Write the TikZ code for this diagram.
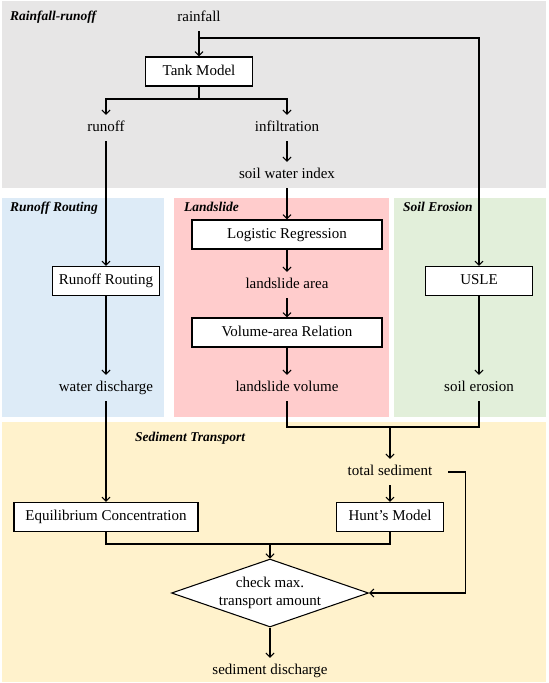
\documentclass[tikz,border=0pt]{standalone}
\usepackage{fontspec}
\setmainfont{Liberation Serif}
\usepackage{xcolor}
\usepackage{tikz}
\usetikzlibrary{arrows.meta,shapes.geometric,calc,positioning}
\definecolor{fondogris}{HTML}{E7E6E6}
\definecolor{fondoazul}{HTML}{DDEBF7}
\definecolor{fondorojo}{HTML}{FFCCCC}
\definecolor{fondoverde}{HTML}{E2EFDA}
\definecolor{fondoamar}{HTML}{FFF2CC}
\tikzset{
  caja/.style={draw=black,fill=white,line width=0.9pt,minimum width=3.21cm,minimum height=0.87cm,inner sep=2pt,text height=8.5pt,text depth=2.5pt,font=\fontsize{12.8}{15}\selectfont},
  txt/.style={inner sep=5.5pt,text height=8.5pt,text depth=2.5pt,font=\fontsize{12.8}{15}\selectfont},
  titulo/.style={anchor=base west,inner sep=0pt,font=\fontsize{11.5}{13}\selectfont\bfseries\itshape},
  flecha/.style={-{Straight Barb[length=3.5pt,width=7pt]},line width=0.9pt},
  linea/.style={line width=0.9pt}
}

\begin{document}
\begin{tikzpicture}[x=0.03cm,y=-0.03cm]
\useasboundingbox (0,0) rectangle (548,683);
% fondos
\fill[fondogris] (1.5,1.5) rectangle (546,188);
\fill[fondoazul] (1.5,198) rectangle (164,417);
\fill[fondorojo] (174,198) rectangle (389,417);
\fill[fondoverde] (394,198) rectangle (546,417);
\fill[fondoamar] (1.5,422) rectangle (546,682);
\node[titulo] at (10,21) {Rainfall-runoff};
\node[titulo] at (10,212) {Runoff Routing};
\node[titulo] at (184,212) {Landslide};
\node[titulo] at (403,212) {Soil Erosion};
\node[titulo] at (135,441) {Sediment Transport};
% lluvia-escorrentia
\node[txt] (rain) at (199,18) {rainfall};
\node[caja] (tank) at (199,71.5) {Tank Model};
\node[txt] (runoff) at (106,128) {runoff};
\node[txt] (infil) at (287,128) {infiltration};
\node[txt] (swi) at (287,175) {soil water index};
% columnas
\node[caja] (routing) at (106,281) {Runoff Routing};
\node[txt] (wdis) at (106,388) {water discharge};
\node[caja,minimum width=5.7cm] (logit) at (287,234.5) {Logistic Regression};
\node[txt] (larea) at (287,285) {landslide area};
\node[caja,minimum width=5.7cm] (volrel) at (287,332.5) {Volume-area Relation};
\node[txt] (lvol) at (287,388) {landslide volume};
\node[caja] (usle) at (479,281) {USLE};
\node[txt] (serosion) at (479,388) {soil erosion};
% transporte
\node[txt] (totsed) at (390,472) {total sediment};
\node[caja,minimum width=5.52cm] (equil) at (106,517) {Equilibrium Concentration};
\node[caja] (hunt) at (390,517) {Hunt's Model};
\node[draw=black,fill=white,line width=0.9pt,diamond,aspect=2.9,inner sep=0.5pt,align=center,font=\fontsize{12.8}{15}\selectfont] (check) at (270,593) {check max.\\transport amount};
\node[txt] (seddis) at (270,671) {sediment discharge};
\coordinate (rsplit) at (199,38);
\coordinate (tsplit) at (199,99);
\coordinate (mjoin) at (390,427);
\coordinate (cjoin) at (270,544);
% conexiones
\draw[flecha] (rain) -- (tank);
\draw[flecha] (rsplit) -| (usle);
\draw[linea] (tank) -- (tsplit);
\draw[flecha] (tsplit) -| (runoff);
\draw[flecha] (tsplit) -| (infil);
\draw[flecha] (infil) -- (swi);
\draw[flecha] (swi) -- (logit);
\draw[flecha] (runoff) -- (routing);
\draw[flecha] (routing) -- (wdis);
\draw[flecha] (logit) -- (larea);
\draw[flecha] (larea) -- (volrel);
\draw[flecha] (volrel) -- (lvol);
\draw[flecha] (usle) -- (serosion);
\draw[linea] (lvol) |- (mjoin);
\draw[linea] (serosion) |- (mjoin);
\draw[flecha] (mjoin) -- (totsed);
\draw[flecha] (totsed) -- (hunt);
\draw[flecha] (wdis) -- (equil);
\draw[linea] (equil) |- (cjoin);
\draw[linea] (hunt) |- (cjoin);
\draw[flecha] (cjoin) -- (check);
\draw[flecha,shorten <=8pt] (totsed.east) -- ++(27,0) |- (check.east);
\draw[flecha] (check) -- (seddis);
\end{tikzpicture}
\end{document}
